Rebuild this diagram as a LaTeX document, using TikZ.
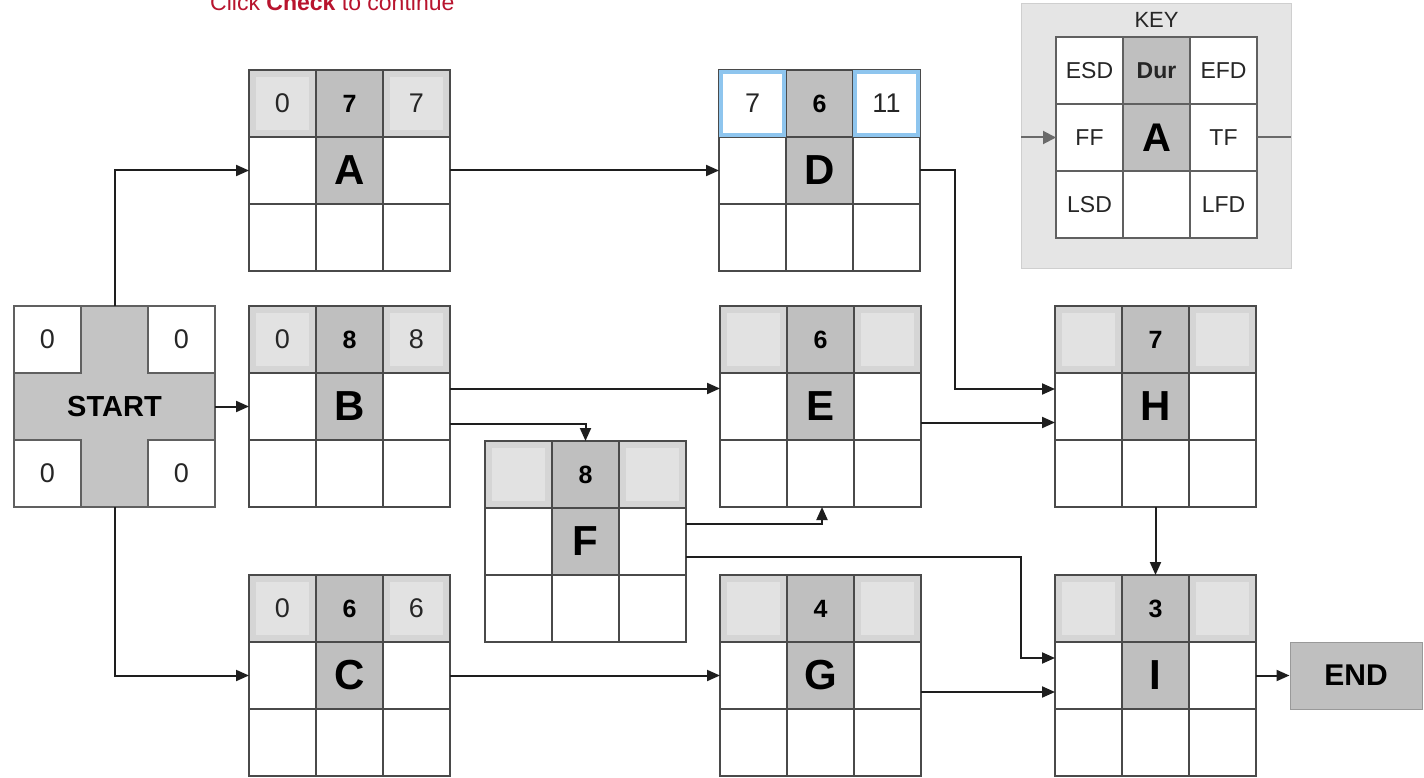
\documentclass[tikz,border=0pt]{standalone}
\usepackage{fontspec}
\setmainfont{Liberation Sans}
\usetikzlibrary{arrows.meta}
\definecolor{midgray}{HTML}{BFBFBF}
\definecolor{crossgray}{HTML}{C4C4C4}
\definecolor{sidegray}{HTML}{D5D5D5}
\definecolor{sideinner}{HTML}{E2E2E2}
\definecolor{gridc}{HTML}{4A4A4A}
\definecolor{inblue}{HTML}{8EC5EE}
\definecolor{keybg}{HTML}{E5E5E5}
\definecolor{keyedge}{HTML}{CFCFCF}
\definecolor{clickred}{HTML}{B8142E}
\definecolor{connc}{HTML}{1E1E1E}
\definecolor{keyarrow}{HTML}{6A6A6A}
\tikzset{
  gridline/.style={draw=gridc, line width=1.3pt},
  softline/.style={draw=gray!75!black, line width=1.1pt},
  conn/.style={draw=connc, line width=2pt, -{Triangle[length=13pt,width=11pt]}},
  box/.style={rectangle, minimum width=201pt, minimum height=201pt, inner sep=0pt, outer sep=0pt},
  numtxt/.style={inner sep=0pt, font=\fontsize{27}{27}\selectfont, text=black!85},
  durtxt/.style={inner sep=0pt, font=\fontsize{25}{25}\selectfont\bfseries},
  lettxt/.style={inner sep=0pt, font=\fontsize{42}{42}\selectfont\bfseries},
  keytxt/.style={inner sep=0pt, font=\fontsize{23}{23}\selectfont, text=black!85},
}
\newcommand{\topgray}{%
  \fill[sidegray] (0,0) rectangle (67,67);
  \fill[sideinner] (7,7) rectangle (60,60);
  \fill[sidegray] (134,0) rectangle (201,67);
  \fill[sideinner] (141,7) rectangle (194,60);}
\newcommand{\topblue}{%
  \fill[white] (0,0) rectangle (67,67);
  \fill[white] (134,0) rectangle (201,67);}
\newcommand{\topblueedge}{%
  \draw[inblue, line width=4pt] (2,2) rectangle (65,65);
  \draw[inblue, line width=4pt] (136,2) rectangle (199,65);}
\newcommand{\noedge}{}
% #1 name, #2 left, #3 top, #4 ESD, #5 Dur, #6 EFD, #7 letter, #8 top fill, #9 top edge
\newcommand{\activity}[9]{%
  \begin{scope}[shift={(#2,#3)}]
    \fill[white] (0,0) rectangle (201,201);
    \fill[midgray] (67,0) rectangle (134,134);
    #8
    \draw[gridline] (0,0) rectangle (201,201);
    \draw[gridline] (67,0) -- (67,201) (134,0) -- (134,201)
                    (0,67) -- (201,67) (0,134) -- (201,134);
    #9
    \node[numtxt] (#1-esd) at (33.5,33.5) {#4};
    \node[durtxt] (#1-dur) at (100.5,33.5) {#5};
    \node[numtxt] (#1-efd) at (167.5,33.5) {#6};
    \node[lettxt] (#1-lbl) at (100.5,100.5) {#7};
  \end{scope}
  \node[box] (#1) at ({#2+100.5},{#3+100.5}) {};
}
\begin{document}
\begin{tikzpicture}[x=1pt,y=-1pt]
\useasboundingbox (0,0) rectangle (1424,778);
\clip (0,0) rectangle (1424,778);
\fill[white] (0,0) rectangle (1424,778);

% instruction text
\node[anchor=base west, inner sep=0pt, text=clickred,
      font=\fontsize{23}{23}\selectfont] (click) at (210,11)
      {Click \textbf{Check} to continue};

% KEY
\fill[keybg] (1021,4) rectangle (1291,268);
\draw[keyedge, line width=1pt] (1021,4) rectangle (1291,268);
\node[keytxt, font=\fontsize{22}{22}\selectfont] (keytitle) at (1156.5,20) {KEY};
\begin{scope}[shift={(1056,37)}]
  \fill[white] (0,0) rectangle (201,201);
  \fill[midgray] (67,0) rectangle (134,134);
  \draw[softline] (0,0) rectangle (201,201);
  \draw[softline] (67,0) -- (67,201) (134,0) -- (134,201)
                  (0,67) -- (201,67) (0,134) -- (201,134);
  \node[keytxt] (k-esd) at (33.5,33.5) {ESD};
  \node[keytxt, font=\fontsize{23}{23}\selectfont\bfseries] (k-dur) at (100.5,33.5) {Dur};
  \node[keytxt] (k-efd) at (167.5,33.5) {EFD};
  \node[keytxt] (k-ff) at (33.5,100.5) {FF};
  \node[inner sep=0pt, font=\fontsize{40}{40}\selectfont\bfseries] (k-a) at (100.5,100.5) {A};
  \node[keytxt] (k-tf) at (167.5,100.5) {TF};
  \node[keytxt] (k-lsd) at (33.5,167.5) {LSD};
  \node[keytxt] (k-lfd) at (167.5,167.5) {LFD};
\end{scope}
\node[box] (KEY) at (1156.5,137.5) {};
\coordinate (keyin) at (1021,137.5);
\coordinate (keyout) at (1291,137.5);
\draw[draw=keyarrow, line width=2pt, -{Triangle[length=13pt,width=13pt]}] (keyin) -- (KEY.west);
\draw[draw=keyarrow, line width=2pt] (KEY.east) -- (keyout);

% START
\begin{scope}[shift={(14,306)}]
  \fill[white] (0,0) rectangle (201,201);
  \fill[crossgray] (67,0) rectangle (134,201);
  \fill[crossgray] (0,67) rectangle (201,134);
  \draw[softline] (0,0) rectangle (201,201);
  \draw[softline] (67,0) -- (67,67) -- (0,67)
                  (134,0) -- (134,67) -- (201,67)
                  (0,134) -- (67,134) -- (67,201)
                  (201,134) -- (134,134) -- (134,201);
  \node[numtxt] (s-esd) at (33.5,33.5) {0};
  \node[numtxt] (s-efd) at (167.5,33.5) {0};
  \node[numtxt] (s-lsd) at (33.5,167.5) {0};
  \node[numtxt] (s-lfd) at (167.5,167.5) {0};
  \node[inner sep=0pt, font=\fontsize{29}{29}\selectfont\bfseries] (s-lbl) at (100.5,100.5) {START};
\end{scope}
\node[box] (S) at (114.5,406.5) {};

% activities
\activity{A}{249}{70}{0}{7}{7}{A}{\topgray}{\noedge}
\activity{D}{719}{70}{7}{6}{11}{D}{\topblue}{\topblueedge}
\activity{B}{249}{306}{0}{8}{8}{B}{\topgray}{\noedge}
\activity{E}{720}{306}{}{6}{}{E}{\topgray}{\noedge}
\activity{H}{1055}{306}{}{7}{}{H}{\topgray}{\noedge}
\activity{F}{485}{441}{}{8}{}{F}{\topgray}{\noedge}
\activity{C}{249}{575}{0}{6}{6}{C}{\topgray}{\noedge}
\activity{G}{720}{575}{}{4}{}{G}{\topgray}{\noedge}
\activity{I}{1055}{575}{}{3}{}{I}{\topgray}{\noedge}

% END
\node[draw=gray!80, line width=1pt, fill=midgray, minimum width=132pt, minimum height=67pt,
      inner sep=0pt, font=\fontsize{30}{30}\selectfont\bfseries] (END) at (1356,675.5) {END};

% connectors
\draw[conn] (S.north) |- (A.west);
\draw[conn] (S.east) -- (B.west);
\draw[conn] (S.south) |- (C.west);
\draw[conn] (A.east) -- (D.west);
\draw[conn] (D.east) -| ([xshift=-100,yshift=17.5]H.west) -- ([yshift=17.5]H.west);
\draw[conn] ([yshift=18]B.east) -- ([yshift=18]E.west);
\draw[conn] ([yshift=-17]B.east) -| (F.north);
\draw[conn] ([yshift=-16]E.east) -- ([yshift=-16]H.west);
\draw[conn] ([yshift=17.5]F.east) -| ([xshift=1.5]E.south);
\draw[conn] ([yshift=-15.5]F.east) -| ([xshift=-34,yshift=17.5]I.west) -- ([yshift=17.5]I.west);
\draw[conn] (C.east) -- (G.west);
\draw[conn] ([yshift=-16.5]G.east) -- ([yshift=-16.5]I.west);
\draw[conn] (H.south) -- (I.north);
\draw[conn] (I.east) -- (END.west);
\end{tikzpicture}
\end{document}
